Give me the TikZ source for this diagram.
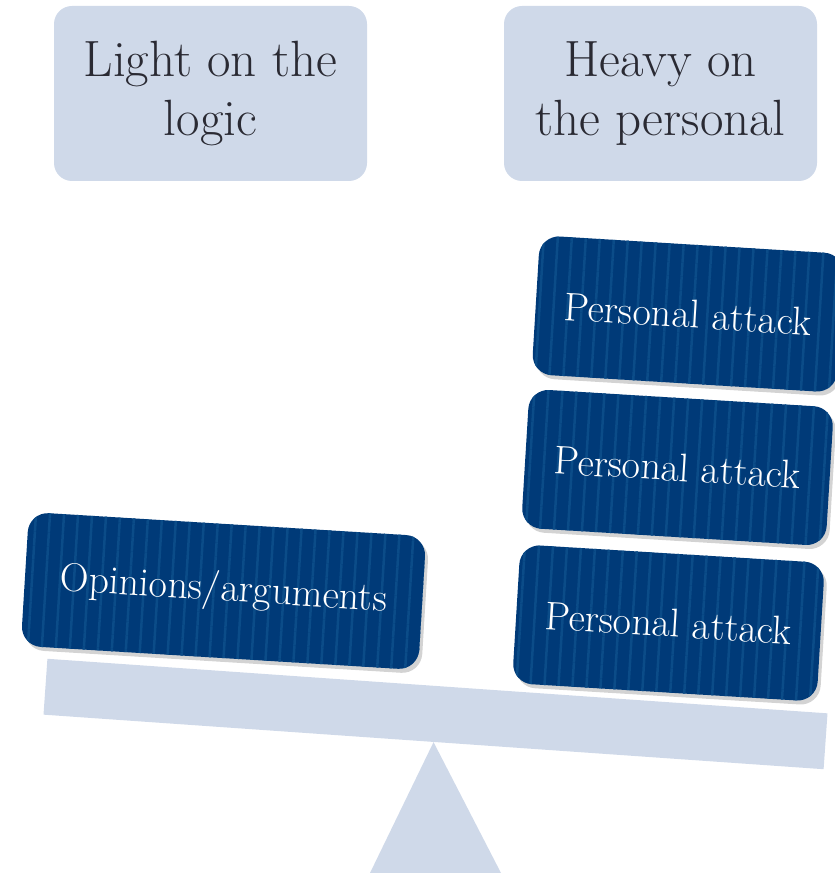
\documentclass[tikz,border=0pt]{standalone}
\usetikzlibrary{shadows,patterns.meta}
\definecolor{panelblue}{HTML}{CFD9E9}
\definecolor{blockblue}{HTML}{003A78}
\definecolor{stripeblue}{HTML}{0B4C88}
\definecolor{captiontext}{HTML}{2A2A33}

\begin{document}
\begin{tikzpicture}[x=1pt, y=1pt]
    \tikzstyle{panel}=[rectangle, rounded corners=18pt, fill=panelblue, minimum width=313pt, minimum height=175pt, inner sep=0pt, align=center, text=captiontext, font=\fontsize{51}{59}\selectfont]  % Caption boxes
    \tikzstyle{block}=[rectangle, rounded corners=20pt, drop shadow={shadow xshift=3pt, shadow yshift=-4pt, opacity=.35}, preaction={fill=blockblue}, pattern={Lines[angle=86.5, distance=14pt, line width=2.5pt]}, pattern color=stripeblue, rotate=-3.5, minimum width=305pt, minimum height=139pt, inner sep=0pt, text=white, font=\fontsize{40}{44}\selectfont]
    \tikzstyle{wide block}=[block, minimum width=398pt, minimum height=134pt]

    \clip (0,0) rectangle (835,873);

    % Captions
    \node[panel] (light) at (210.5,779.5) {Light on the\\logic};
    \node[panel] (heavy) at (660.5,779.5) {Heavy on\\the personal};

    % Balance
    \node[rectangle, fill=panelblue, minimum width=782pt, minimum height=56pt, inner sep=0pt, rotate=-4] (beam) at (435.5,159) {};
    \coordinate (base left) at (370,0);
    \coordinate (base right) at (501,0);
    \fill[panelblue] (beam.south) -- (base left) -- (base right) -- cycle;

    % Weights
    \node[wide block] (opinions) at (223.5,282) {Opinions/arguments};
    \foreach \i/\x/\y in {1/688/559, 2/677.5/405.5, 3/668.5/250}
        \node[block] (attack-\i) at (\x,\y) {Personal attack};
\end{tikzpicture}
\end{document}
